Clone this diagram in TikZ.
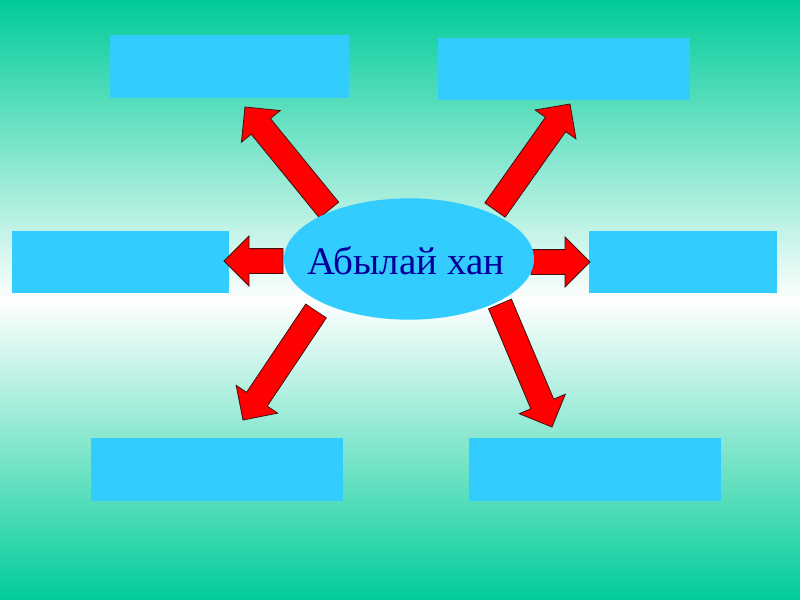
\documentclass[tikz,border=0pt]{standalone}
\usepackage{fontspec}
\setmainfont{Liberation Serif}
\usetikzlibrary{calc,shapes.geometric}
\definecolor{bggreen}{HTML}{00CC99}
\definecolor{boxblue}{HTML}{33CCFF}
\definecolor{navytext}{HTML}{000099}
\definecolor{arrowred}{HTML}{FF0000}
\definecolor{arrowedge}{HTML}{401010}
\tikzset{
  boxstyle/.style={fill=boxblue, draw=none, rectangle, inner sep=0pt},
  arrowstyle/.style={fill=arrowred, draw=arrowedge, line width=0.6pt, line join=miter},
}
\newcommand\blockarrow[2]{%
  \coordinate (#1h) at ($(#2)!18.75pt!(#1)$);
  \draw[arrowstyle] ($(#1)!9.3pt!90:(#2)$) -- ($(#1h)!9.3pt!90:(#2)$) -- ($(#1h)!18.75pt!90:(#2)$) -- (#2)
    -- ($(#1h)!18.75pt!-90:(#2)$) -- ($(#1h)!9.3pt!-90:(#2)$) -- ($(#1)!9.3pt!-90:(#2)$) -- cycle;}
\begin{document}
\begin{tikzpicture}[x=0.75pt,y=-0.75pt]
\useasboundingbox (0,0) rectangle (800,600);
\shade[top color=bggreen, bottom color=white] (0,0) rectangle (800,302);
\shade[top color=white, bottom color=bggreen] (0,300) rectangle (800,600);
% boxes
\node[boxstyle, minimum width=179.25pt, minimum height=47.25pt] (r1) at (229.5,66.5) {};
\node[boxstyle, minimum width=189pt, minimum height=46.5pt] (r2) at (564,69) {};
\node[boxstyle, minimum width=162.75pt, minimum height=46.5pt] (r3) at (120.5,262) {};
\node[boxstyle, minimum width=141pt, minimum height=46.5pt] (r4) at (683,262) {};
\node[boxstyle, minimum width=189pt, minimum height=47.25pt] (r5) at (217,469.5) {};
\node[boxstyle, minimum width=189pt, minimum height=47.25pt] (r6) at (595,469.5) {};
% arrow ends
\coordinate (t1) at (329,210); \coordinate (p1) at (245,107);
\coordinate (t2) at (495,210); \coordinate (p2) at (570,104);
\coordinate (t3) at (283,261); \coordinate (p3) at (224,261);
\coordinate (t4) at (531,262); \coordinate (p4) at (590,262);
\coordinate (t5) at (316,311); \coordinate (p5) at (243,420);
\coordinate (t6) at (500,304); \coordinate (p6) at (552,427);
\blockarrow{t1}{p1}
\blockarrow{t2}{p2}
\blockarrow{t3}{p3}
\blockarrow{t4}{p4}
\blockarrow{t5}{p5}
\blockarrow{t6}{p6}
% center
\node[ellipse, fill=boxblue, draw=none, minimum width=187.5pt, minimum height=91pt, inner sep=0pt] (c) at (409,259) {};
\node[text=navytext, font=\fontsize{29.3pt}{31pt}\selectfont, inner sep=0pt] (ct) at (406,261) {Абылай хан};
\end{tikzpicture}
\end{document}
